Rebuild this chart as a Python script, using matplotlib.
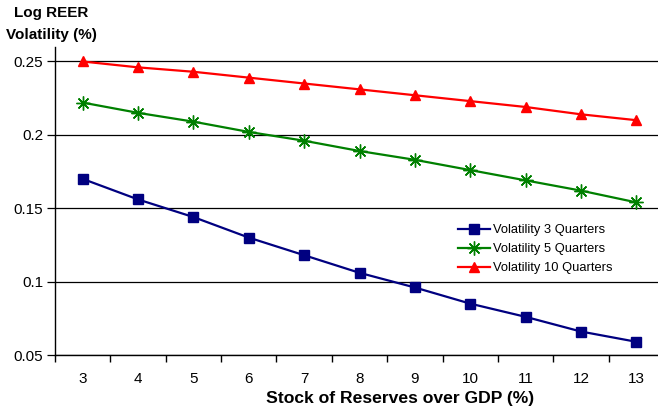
import matplotlib
matplotlib.use("Agg")
import matplotlib.pyplot as plt

reserves = [3, 4, 5, 6, 7, 8, 9, 10, 11, 12, 13]
vol_3q = [0.170, 0.156, 0.144, 0.130, 0.118, 0.106, 0.096, 0.085, 0.076, 0.066, 0.059]
vol_5q = [0.222, 0.215, 0.209, 0.202, 0.196, 0.189, 0.183, 0.176, 0.169, 0.162, 0.154]
vol_10q = [0.250, 0.246, 0.243, 0.239, 0.235, 0.231, 0.227, 0.223, 0.219, 0.214, 0.210]
yticks = [0.05, 0.1, 0.15, 0.2, 0.25]
ytick_labels = ["0.05", "0.1", "0.15", "0.2", "0.25"]

plt.rcParams['font.family'] = ['Liberation Sans', 'DejaVu Sans']

fig = plt.figure(figsize=(6.58, 4.11), dpi=100)
ax = fig.add_axes([55/658, 1-355/411, (664-55)/658, (355-47.4)/411])

ax.set_xlim(2.5, 13.5)
ax.set_ylim(0.05, 0.2596)

for y in yticks:
    ax.axhline(y, color='black', lw=0.9, zorder=1)

ax.plot(reserves, vol_3q, color='#000080', marker='s', markersize=7, lw=1.6,
        label='Volatility 3 Quarters', zorder=3, clip_on=False)
ax.plot(reserves, vol_5q, color='#008000', marker=(8, 2, 0), markersize=10, mew=1.0, lw=1.6,
        label='Volatility 5 Quarters', zorder=3, clip_on=False)
ax.plot(reserves, vol_10q, color='#ff0000', marker='^', markersize=7, lw=1.6,
        label='Volatility 10 Quarters', zorder=3, clip_on=False)

ax.set_yticks(yticks)
ax.set_yticklabels(ytick_labels, fontsize=11)
ax.set_xticks(reserves)
ax.set_xticklabels([str(r) for r in reserves], fontsize=11)
ax.set_xticks([r - 0.5 for r in reserves] + [13.5], minor=True)
ax.tick_params(axis='x', which='major', length=0, pad=12)
ax.tick_params(axis='x', which='minor', length=5, width=1, direction='out')
ax.tick_params(axis='y', which='major', length=5.5, width=0.9, direction='out', pad=3)

for s in ['top', 'right']:
    ax.spines[s].set_visible(False)
ax.spines['left'].set_linewidth(1.0)
ax.spines['bottom'].set_linewidth(1.0)

fig.text(400/658, 1-398/411, 'Stock of Reserves over GDP (%)', fontsize=12.6,
         fontweight='bold', ha='center', va='center')
fig.text(51/658, 1-24/411, 'Log REER\nVolatility (%)', fontsize=11, fontweight='bold',
         ha='center', va='center', linespacing=1.7)

leg = ax.legend(loc='upper left', bbox_to_anchor=((458-55)/609, 1-(224-47.4)/307.6),
                frameon=False, fontsize=9.3, handlelength=2.5, labelspacing=0.55,
                handletextpad=0.2, borderaxespad=0, borderpad=0)

fig.savefig('out.png', dpi=100)
